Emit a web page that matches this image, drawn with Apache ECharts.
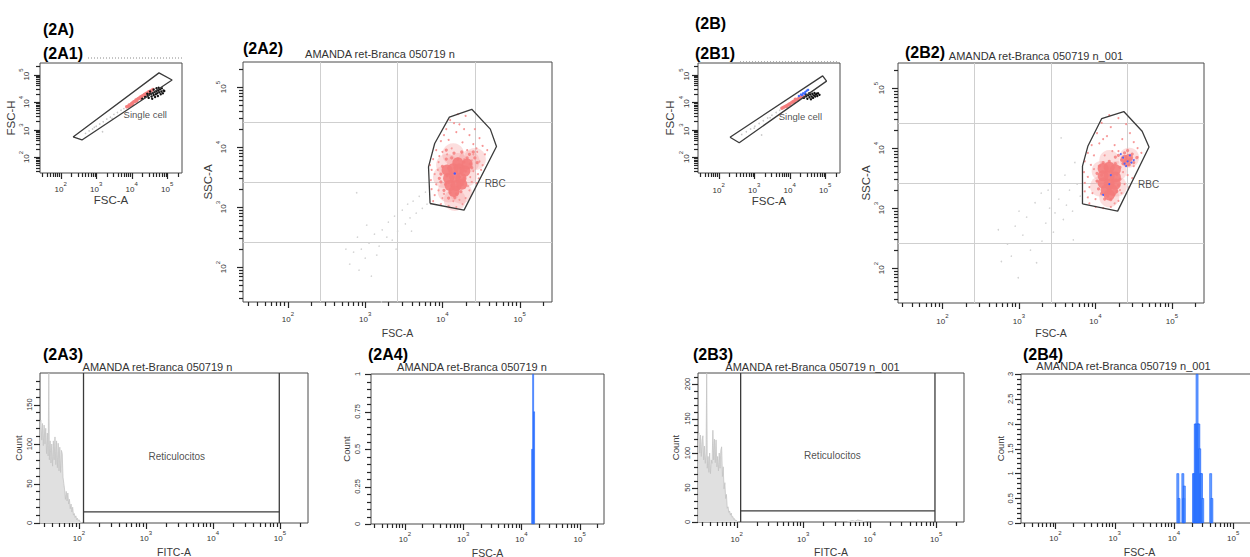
<!DOCTYPE html>
<html>
<head>
<meta charset="utf-8">
<title>Flow cytometry panels 2A / 2B</title>
<script src="https://cdn.jsdelivr.net/npm/echarts@6.0.0/dist/echarts.min.js"></script>
<style>
html,body{margin:0;padding:0;background:#ffffff;}
#chart{width:1250px;height:557px;}
</style>
</head>
<body>
<div id="chart"></div>
<script>
// ================= DATA =================
// Logarithmic axes are drawn in log10 units (decades); labels show 10^n.
const decadeExponents = [2, 3, 4, 5];
const logMinorTickValues = [30,40,50,60,70,80,90,200,300,400,500,600,700,800,900,
  2000,3000,4000,5000,6000,7000,8000,9000,20000,30000,40000,50000,60000,70000,80000,90000,200000];

// --- 2A1 : FSC-A vs FSC-H (log10) ---
const a1Gate = [[2.35,2.73],[2.60,2.62],[5.14,4.80],[4.77,5.06],[2.35,2.73]];
const a1Grey = [[2.70,2.86],[2.80,2.95],[2.90,3.02],[2.95,3.08],[3.00,3.12],[3.10,3.20],[3.18,2.92],[3.20,3.28],[3.30,3.38],[3.40,3.45],[3.45,3.40],[3.50,3.55],[3.60,3.62],[3.70,3.70],[3.78,3.76]];
const a1Red = [[3.86,3.83],[3.90,3.84],[3.93,3.89],[3.95,3.86],[3.97,3.90],[4.00,3.95],[4.02,3.92],[4.03,3.97],[4.06,4.01],[4.09,4.02],[4.12,4.07],[4.14,4.04],[4.15,4.08],[4.18,4.12],[4.21,4.14],[4.24,4.17],[4.26,4.14],[4.27,4.19],[4.30,4.22],[4.33,4.24],[4.36,4.27],[4.38,4.25],[4.39,4.29],[4.42,4.32],[4.45,4.33],[4.48,4.37],[4.50,4.35],[4.52,4.39],[4.56,4.42],[4.60,4.46]];
const a1Black = [[4.30,4.12],[4.38,4.18],[4.44,4.30],[4.45,4.22],[4.48,4.15],[4.50,4.28],[4.52,4.38],[4.55,4.30],[4.56,4.20],[4.58,4.12],[4.60,4.33],[4.62,4.25],[4.62,4.45],[4.65,4.36],[4.66,4.18],[4.68,4.28],[4.70,4.40],[4.70,4.50],[4.72,4.32],[4.74,4.22],[4.75,4.42],[4.76,4.52],[4.78,4.35],[4.80,4.46],[4.82,4.28],[4.84,4.38],[4.85,4.50],[4.88,4.32],[4.90,4.42],[4.92,4.40]];
const a1GateLabel = [3.76, 3.53];

// --- 2A2 : FSC-A vs SSC-A (log10) ---
const a2Gate = [[3.84,3.06],[3.82,3.67],[3.90,4.06],[4.09,4.50],[4.38,4.63],[4.62,4.30],[4.70,4.01],[4.28,2.95],[3.84,3.06]];
const a2Grey = [[2.75,2.30],[2.80,2.05],[2.85,2.25],[2.89,3.24],[2.90,2.50],[2.92,1.95],[2.95,2.30],[3.00,2.15],[3.02,2.70],[3.05,2.40],[3.08,1.85],[3.12,2.55],[3.15,2.20],[3.18,2.35],[3.21,1.42],[3.22,2.62],[3.28,2.50],[3.30,2.75],[3.35,2.45],[3.38,2.85],[3.40,2.30],[3.42,2.60],[3.48,2.95],[3.52,2.72],[3.55,3.05],[3.58,2.82],[3.60,2.60],[3.62,3.10],[3.66,2.90],[3.70,3.18],[3.74,2.98],[3.78,3.25],[3.80,3.05]];
const a2RedSparse = [[4.10,4.45],[4.22,4.38],[4.30,4.52],[4.05,4.30],[4.18,4.25],[4.35,4.20],[4.42,4.30],[4.48,4.15],[3.98,4.10],[4.08,4.12],[4.26,4.08],[4.40,4.05],[4.52,4.02],[3.92,3.95],[4.00,3.92],[4.32,3.95],[4.45,3.92],[4.55,3.88],[3.88,3.80],[3.95,3.75],[4.38,3.78],[4.48,3.76],[4.52,3.70],[3.86,3.62],[3.90,3.55],[4.40,3.60],[4.46,3.55],[3.85,3.45],[3.92,3.38],[4.38,3.42],[4.44,3.40],[3.86,3.30],[3.90,3.20],[4.35,3.28],[4.30,3.15],[3.88,3.10],[3.98,3.05],[4.08,3.02],[4.18,3.00],[4.26,3.05],[4.00,3.15],[4.22,3.12],[3.95,3.28],[4.02,3.22],[4.33,3.35],[4.14,3.10],[4.28,4.30],[4.15,4.40],[4.20,4.55],[4.02,4.20],[4.12,3.98],[4.44,3.98],[3.96,3.85],[4.50,3.62],[4.47,3.48],[3.84,3.70],[4.36,3.50],[4.58,3.95],[4.25,3.90],[4.06,3.88],[3.94,3.62],[4.34,3.65],[4.40,3.88],[4.28,3.80]];
const a2RedMid = [[4.05,3.80],[4.12,3.82],[4.20,3.80],[4.28,3.75],[4.32,3.82],[4.36,3.72],[4.00,3.68],[4.08,3.65],[4.16,3.66],[4.24,3.64],[4.30,3.60],[3.98,3.55],[4.06,3.52],[4.14,3.50],[4.22,3.50],[4.28,3.48],[3.98,3.42],[4.04,3.38],[4.12,3.36],[4.20,3.34],[4.26,3.38],[4.02,3.28],[4.10,3.24],[4.18,3.22],[4.24,3.26],[4.08,3.15],[4.16,3.16],[4.25,3.92],[4.35,3.88],[4.42,3.82],[4.45,3.74],[4.40,3.92],[4.15,3.90],[4.05,3.95],[4.38,3.66],[3.96,3.48]];
const a2RedHalo = [[4.06,3.70],[4.20,3.72],[4.34,3.76],[4.42,3.80],[4.02,3.50],[4.30,3.52],[4.08,3.26],[4.24,3.24],[4.16,3.12],[4.14,3.88]];
const a2RedCore = [[4.06,3.62],[4.14,3.64],[4.22,3.64],[4.29,3.60],[4.08,3.48],[4.16,3.50],[4.24,3.48],[4.10,3.36],[4.18,3.36],[4.25,3.38],[4.15,3.26],[4.20,3.74],[4.32,3.72]];
const a2Blue = [[4.16,3.56]];
const a2GateLabel = [4.54, 3.40];

// --- 2A3 : FITC-A histogram (x log10, y count) ---
const a3HistX = [1.420,1.432,1.444,1.456,1.468,1.480,1.492,1.504,1.516,1.528,1.540,1.550,1.558,1.570,1.582,1.594,1.606,1.618,1.630,1.642,1.654,1.666,1.678,1.690,1.702,1.714,1.726,1.738,1.750,1.762,1.774,1.786,1.798,1.810,1.822,1.834,1.846,1.858,1.870,1.882,1.894,1.906,1.918,1.930,1.942,1.954,1.966,1.978,1.990,2.002,2.020,2.045];
const a3HistCount = [128,130,105,126,98,124,100,120,88,114,85,190,80,104,76,100,72,104,80,109,74,104,70,101,66,96,64,92,88,58,50,42,30,40,28,38,24,30,18,24,14,20,10,12,7,9,4,6,3,4,1,0];
const a3GateX = [2.068, 4.99];
const a3GateLevel = 14;
const a3GateLabel = [3.46, 84];
const a3CountTicks = [0, 50, 100, 150];
const a3CountMinorTicks = [10,20,30,40,60,70,80,90,110,120,130,140,160,170,180];
const a3CountMax = 190;

// --- 2A4 : FSC-A histogram of gated events ---
const a4BinX = [4.185, 4.202, 4.218];
const a4BinCount = [0.5, 1, 0.75];
const a4CountTicks = [0, 0.25, 0.5, 0.75, 1];
const a4CountMinorTicks = [0.05,0.1,0.15,0.2,0.3,0.35,0.4,0.45,0.55,0.6,0.65,0.7,0.8,0.85,0.9,0.95];
const a4CountMax = 1;

// --- 2B1 ---
const b1Gate = [[2.32,2.72],[2.58,2.52],[5.04,4.76],[4.93,4.95],[2.32,2.72]];
const b1Grey = [[2.65,2.82],[2.78,2.92],[2.90,3.02],[3.00,3.05],[3.02,3.12],[3.14,3.22],[3.21,2.80],[3.26,3.32],[3.38,3.42],[3.45,3.43],[3.50,3.52],[3.62,3.62],[3.72,3.70]];
const b1Red = [[3.78,3.77],[3.82,3.80],[3.86,3.83],[3.90,3.86],[3.92,3.84],[3.94,3.88],[3.98,3.92],[4.00,3.90],[4.02,3.95],[4.06,3.98],[4.10,4.02],[4.12,4.00],[4.14,4.04],[4.16,4.10],[4.18,4.08],[4.22,4.10],[4.24,4.08],[4.26,4.13],[4.28,4.18],[4.30,4.16],[4.34,4.18],[4.38,4.21]];
const b1Blue = [[4.26,4.22],[4.32,4.27],[4.35,4.25],[4.38,4.32],[4.42,4.30],[4.44,4.36],[4.48,4.41],[4.52,4.44]];
const b1Black = [[4.40,4.15],[4.45,4.28],[4.46,4.20],[4.50,4.12],[4.52,4.24],[4.55,4.32],[4.56,4.17],[4.58,4.27],[4.60,4.10],[4.62,4.20],[4.64,4.30],[4.66,4.15],[4.68,4.24],[4.70,4.33],[4.72,4.20],[4.74,4.27],[4.76,4.30],[4.78,4.22],[4.80,4.32],[4.84,4.26]];
const b1GateLabel = [3.68, 3.47];

// --- 2B2 ---
const b2Gate = [[3.83,3.07],[3.83,3.70],[3.90,4.03],[4.08,4.49],[4.37,4.61],[4.61,4.28],[4.70,4.02],[4.29,2.95],[3.83,3.07]];
const b2Grey = [[2.73,2.64],[2.77,2.11],[2.85,2.40],[2.90,2.20],[2.95,2.70],[2.99,1.84],[3.00,2.95],[3.05,2.55],[3.10,2.85],[3.15,2.30],[3.21,3.09],[3.23,2.09],[3.29,3.25],[3.30,2.45],[3.35,2.75],[3.38,3.30],[3.40,3.00],[3.45,2.60],[3.47,2.92],[3.52,3.15],[3.55,4.17],[3.58,2.81],[3.60,3.55],[3.62,3.05],[3.66,3.30],[3.70,2.95],[3.71,2.47],[3.73,3.76],[3.76,3.40],[3.80,3.20]];
const b2RedSparse = [[4.08,4.42],[4.20,4.35],[4.30,4.50],[4.02,4.25],[4.15,4.20],[4.35,4.15],[4.45,4.25],[4.50,4.10],[3.95,4.05],[4.05,4.08],[4.25,4.05],[4.55,4.00],[3.90,3.92],[3.98,3.88],[4.30,3.95],[4.60,3.92],[3.86,3.78],[3.94,3.72],[4.50,3.70],[3.85,3.60],[3.90,3.52],[4.42,3.55],[4.48,3.50],[3.86,3.42],[3.92,3.35],[4.38,3.40],[4.44,3.35],[3.86,3.28],[3.90,3.18],[4.34,3.25],[4.30,3.12],[3.92,3.08],[4.00,3.02],[4.10,3.00],[4.20,3.02],[4.25,3.08],[4.00,3.15],[3.96,3.25],[4.02,3.45],[4.32,3.30],[4.12,3.88],[4.22,3.95],[3.98,3.65],[4.36,3.60],[4.55,3.85],[4.10,4.15],[4.40,4.40],[4.18,4.55]];
const b2RedMid = [[4.05,3.70],[4.10,3.76],[4.18,3.78],[4.26,3.74],[4.32,3.68],[4.02,3.58],[4.08,3.55],[4.28,3.56],[4.32,3.48],[4.02,3.45],[4.30,3.38],[4.04,3.32],[4.08,3.24],[4.16,3.20],[4.24,3.22],[4.28,3.28],[4.12,3.15],[4.20,3.14],[4.34,3.80],[4.40,3.86],[4.46,3.82],[4.50,3.76],[4.44,3.72],[4.38,3.92],[4.48,3.90],[4.36,3.74],[4.42,3.96],[4.30,3.88],[4.54,3.84],[4.26,3.85]];
const b2RedHalo = [[4.08,3.62],[4.28,3.62],[4.06,3.36],[4.28,3.36],[4.18,3.18],[4.18,3.80],[4.44,3.84]];
const b2RedCore = [[4.10,3.66],[4.18,3.68],[4.26,3.64],[4.10,3.54],[4.18,3.54],[4.26,3.52],[4.10,3.42],[4.18,3.40],[4.26,3.40],[4.14,3.30],[4.22,3.30],[4.18,3.22]];
const b2RedLobe = [[4.38,3.82],[4.44,3.84],[4.41,3.76]];
const b2Blue = [[4.36,3.84],[4.42,3.78],[4.45,3.88],[4.38,3.74],[4.50,3.80],[4.33,3.90],[4.40,3.70],[4.47,3.76],[4.20,3.55],[4.18,3.40],[4.10,3.22]];
const b2GateLabel = [4.55, 3.39];

// --- 2B3 ---
const b3HistX = [1.420,1.432,1.444,1.456,1.468,1.480,1.492,1.504,1.516,1.528,1.540,1.549,1.558,1.570,1.582,1.594,1.606,1.618,1.630,1.642,1.654,1.666,1.678,1.690,1.702,1.714,1.726,1.738,1.750,1.762,1.774,1.786,1.798,1.810,1.822,1.834,1.846,1.858,1.870,1.882,1.894,1.906,1.918,1.930,1.942,1.954,1.966,1.978,1.990,2.005,2.030];
const b3HistCount = [125,129,100,126,95,118,125,90,110,85,100,216,78,95,72,100,70,90,85,133,90,120,86,119,80,95,74,100,78,104,109,66,80,48,57,34,40,20,22,14,16,10,13,7,8,4,5,2,3,1,0];
const b3BumpX = [3.66,3.70,3.74,3.78,3.82,3.86,3.90,3.94];
const b3BumpCount = [0,1,2,1,3,2,1,0];
const b3GateX = [2.06, 4.982];
const b3GateLevel = 16;
const b3GateLabel = [3.44, 97];
const b3CountTicks = [0, 50, 100, 150, 200];
const b3CountMinorTicks = [10,20,30,40,60,70,80,90,110,120,130,140,160,170,180,190,210];
const b3CountMax = 216;

// --- 2B4 ---
const b4BinX = [4.065,4.085,4.150,4.165,4.175,4.330,4.345,4.360,4.375,4.390,4.405,4.420,4.435,4.450,4.465,4.485,4.620,4.640];
const b4BinCount = [1,0.5,1,0.5,0.75,1,1,2,2,3,2,2,1.5,1,1,0.5,1,0.5];
const b4CountTicks = [0, 0.5, 1, 1.5, 2, 2.5, 3];
const b4CountMinorTicks = [0.1,0.2,0.3,0.4,0.6,0.7,0.8,0.9,1.1,1.2,1.3,1.4,1.6,1.7,1.8,1.9,2.1,2.2,2.3,2.4,2.6,2.7,2.8,2.9];
const b4CountMax = 3;

// quadrant grid lines of the dot plots (quarters of the plot)
const quarterLines = [1, 2, 3];

// ================= CHART =================
const FONT = '"Liberation Sans", Arial, Helvetica, sans-serif';
const LOG_MAX = Math.log10(262144);
const LOG_MIN = LOG_MAX - 4;
const AX = '#262626';
const logMinor = logMinorTickValues.map(v => Math.log10(v));

function logLabel(v) { return '{b|10}{s|' + Math.round(v) + '}'; }
const logRich = {
  b: {fontSize: 8, lineHeight: 12, verticalAlign: 'bottom', color: '#333', fontFamily: FONT},
  s: {fontSize: 6, lineHeight: 12, verticalAlign: 'top', color: '#333', fontFamily: FONT}
};

const gridRects = [
  {left: 40,   top: 63,  width: 142, height: 110}, // 2A1
  {left: 243,  top: 62,  width: 309, height: 240}, // 2A2
  {left: 40,   top: 373, width: 268, height: 150}, // 2A3
  {left: 371,  top: 374, width: 233, height: 150}, // 2A4
  {left: 698,  top: 63,  width: 142, height: 110}, // 2B1
  {left: 898,  top: 63,  width: 306, height: 240}, // 2B2
  {left: 698,  top: 373, width: 266, height: 149}, // 2B3
  {left: 1021, top: 374, width: 237, height: 149}  // 2B4
];
const grids = gridRects.map(g => Object.assign({}, g, {show: true, borderColor: '#4a4a4a', borderWidth: 1,
  backgroundColor: 'transparent', containLabel: false, outerBoundsMode: 'none'}));

function logCfg(name, nameGap, nameSize, margin) {
  return {log: true, min: LOG_MIN, max: LOG_MAX, major: decadeExponents, minor: logMinor, name, nameGap, nameSize, margin};
}
function linCfg(max, major, minor, name, nameGap, nameSize, margin) {
  return {log: false, min: 0, max, major, minor, name, nameGap, nameSize, margin};
}
const panelAxes = [
  [logCfg('FSC-A', 21, 11.5, 8),   logCfg('FSC-H', 22, 11.5, 10)],
  [logCfg('FSC-A', 25, 10.5, 9),   logCfg('SSC-A', 20, 11.5, 16)],
  [logCfg('FITC-A', 23, 10.5, 7),  linCfg(a3CountMax, a3CountTicks, a3CountMinorTicks, 'Count', 17, 9.5, 7)],
  [logCfg('FSC-A', 23, 10.5, 7),   linCfg(a4CountMax, a4CountTicks, a4CountMinorTicks, 'Count', 20, 9.5, 10)],
  [logCfg('FSC-A', 22, 11.5, 9),   logCfg('FSC-H', 22, 11.5, 8)],
  [logCfg('FSC-A', 24, 10.5, 10),  logCfg('SSC-A', 22, 11.5, 13)],
  [logCfg('FITC-A', 24, 10.5, 9),  linCfg(b3CountMax, b3CountTicks, b3CountMinorTicks, 'Count', 18, 9.5, 7)],
  [logCfg('FSC-A', 23, 10.5, 7),   linCfg(b4CountMax, b4CountTicks, b4CountMinorTicks, 'Count', 16, 9.5, 7)]
];

function makeAxis(g, dim, cfg) {
  const label = {show: true, customValues: cfg.major, rotate: dim === 'y' ? 90 : 0, margin: cfg.margin,
    fontSize: 7.5, color: '#333', fontFamily: FONT};
  if (cfg.log) { label.formatter = logLabel; label.rich = logRich; }
  return {type: 'value', gridIndex: g, min: cfg.min, max: cfg.max,
    position: dim === 'x' ? 'bottom' : 'left',
    axisLine: {show: false}, splitLine: {show: false}, axisTick: {show: false},
    axisLabel: label,
    name: cfg.name, nameLocation: 'middle', nameGap: cfg.nameGap,
    nameTextStyle: {fontSize: cfg.nameSize, color: '#3a3a3a', fontFamily: FONT}};
}
const xAxes = panelAxes.map((p, g) => makeAxis(g, 'x', p[0]));
const yAxes = panelAxes.map((p, g) => makeAxis(g, 'y', p[1]));

// hidden axes carrying the quadrant grid lines of 2A2 (grid 1) and 2B2 (grid 5)
[1, 5].forEach(g => {
  const q = {type: 'value', gridIndex: g, min: 0, max: 4, axisLine: {show: false}, axisLabel: {show: false},
    axisTick: {show: false, customValues: quarterLines},
    splitLine: {show: true, lineStyle: {color: '#cfcfcf', width: 1}}};
  xAxes.push(Object.assign({position: 'bottom'}, q));
  yAxes.push(Object.assign({position: 'left'}, q));
});

const series = [];
function dots(g, data, color, size, opacity, z) {
  series.push({type: 'scatter', xAxisIndex: g, yAxisIndex: g, data: data, symbolSize: size,
    itemStyle: {color: color, opacity: opacity}, silent: true, z: z || 2});
}
function gateLine(g, data) {
  series.push({type: 'line', xAxisIndex: g, yAxisIndex: g, data: data, symbol: 'none',
    lineStyle: {color: '#3b3b3b', width: 1.3}, silent: true, z: 5});
}
function note(g, pos, text, size, position) {
  series.push({type: 'scatter', xAxisIndex: g, yAxisIndex: g, data: [{name: text, value: pos}],
    symbolSize: 1, itemStyle: {color: 'rgba(0,0,0,0)'},
    label: {show: true, formatter: '{b}', position: position, distance: 0, fontSize: size, color: '#222', fontFamily: FONT},
    silent: true, z: 6});
}
function histo(g, xs, ys) {
  series.push({type: 'line', xAxisIndex: g, yAxisIndex: g, data: xs.map((x, i) => [x, ys[i]]),
    symbol: 'none', lineStyle: {color: '#c4c4c4', width: 0.8}, areaStyle: {color: '#e0e0e0', opacity: 1},
    silent: true, z: 2});
}
function bracket(g, gx, level, top) {
  gateLine(g, [[gx[0], 0], [gx[0], top]]);
  gateLine(g, [[gx[1], 0], [gx[1], top]]);
  gateLine(g, [[gx[0], level], [gx[1], level]]);
}
function blueBars(g, xs, ys, w) {
  series.push({type: 'bar', xAxisIndex: g, yAxisIndex: g, data: xs.map((x, i) => [x, ys[i]]),
    barWidth: w, itemStyle: {color: 'rgba(74,142,255,0.82)', borderColor: '#1760ff', borderWidth: 0.6},
    silent: true, z: 3});
}

// 2A1
dots(0, a1Grey, '#c8c8c8', 1.6, 1);
dots(0, a1Red, '#f47c7c', 3.4, 0.95, 3);
dots(0, a1Black, '#111111', 2.4, 1, 4);
gateLine(0, a1Gate);
note(0, a1GateLabel, 'Single cell', 9.5, 'right');
// 2A2
dots(1, a2Grey, '#d2d2d2', 1.6, 1);
dots(1, a2RedSparse, '#f58a8a', 2, 0.9, 3);
dots(1, a2RedHalo, '#f6a0a0', 22, 0.35, 3);
dots(1, a2RedMid, '#f47f7f', 3.2, 0.85, 3);
dots(1, a2RedCore, '#f47b7b', 11, 0.9, 3);
dots(1, a2Blue, '#4258ff', 2.5, 1, 4);
gateLine(1, a2Gate);
note(1, a2GateLabel, 'RBC', 10, 'right');
// 2A3
histo(2, a3HistX, a3HistCount);
bracket(2, a3GateX, a3GateLevel, a3CountMax);
note(2, a3GateLabel, 'Reticulocitos', 10, 'inside');
// 2A4
blueBars(3, a4BinX, a4BinCount, 1.6);
// 2B1
dots(4, b1Grey, '#c8c8c8', 1.6, 1);
dots(4, b1Red, '#f47c7c', 3.4, 0.95, 3);
dots(4, b1Black, '#111111', 2.4, 1, 4);
dots(4, b1Blue, '#3f6bff', 2.4, 1, 4);
gateLine(4, b1Gate);
note(4, b1GateLabel, 'Single cell', 9.5, 'right');
// 2B2
dots(5, b2Grey, '#d2d2d2', 1.6, 1);
dots(5, b2RedSparse, '#f58a8a', 2, 0.9, 3);
dots(5, b2RedHalo, '#f6a0a0', 20, 0.35, 3);
dots(5, b2RedMid, '#f47f7f', 3.2, 0.85, 3);
dots(5, b2RedCore, '#f47b7b', 11, 0.9, 3);
dots(5, b2RedLobe, '#f47b7b', 8, 0.85, 3);
dots(5, b2Blue, '#4a63ff', 2, 1, 4);
gateLine(5, b2Gate);
note(5, b2GateLabel, 'RBC', 10, 'right');
// 2B3
histo(6, b3HistX, b3HistCount);
histo(6, b3BumpX, b3BumpCount);
bracket(6, b3GateX, b3GateLevel, b3CountMax);
note(6, b3GateLabel, 'Reticulocitos', 10, 'inside');
// 2B4
blueBars(7, b4BinX, b4BinCount, 2.6);

// panel tags and sample titles
function tag(text, x, y) {
  return {type: 'text', x: x, y: y, silent: true,
    style: {text: text, fill: '#000', font: 'bold 16px ' + FONT, align: 'left', verticalAlign: 'middle'}};
}
function title(text, x, y) {
  return {type: 'text', x: x, y: y, silent: true,
    style: {text: text, fill: '#333', font: '11px ' + FONT, align: 'center', verticalAlign: 'middle'}};
}
const graphics = [
  tag('(2A)', 43, 29), tag('(2A1)', 43, 53), tag('(2A2)', 243, 48), tag('(2A3)', 43, 354), tag('(2A4)', 368, 354),
  tag('(2B)', 695, 23), tag('(2B1)', 695, 53), tag('(2B2)', 905, 52), tag('(2B3)', 693, 354), tag('(2B4)', 1023, 354),
  title('AMANDA ret-Branca 050719 n', 380, 54),
  title('AMANDA ret-Branca 050719 n_001', 1036, 56),
  title('AMANDA ret-Branca 050719 n', 157.5, 366.5),
  title('AMANDA ret-Branca 050719 n', 472, 366.5),
  title('AMANDA ret-Branca 050719 n_001', 812.5, 366.5),
  title('AMANDA ret-Branca 050719 n_001', 1123.5, 366),
  {type: 'line', silent: true, shape: {x1: 88, y1: 58, x2: 182, y2: 58}, style: {stroke: '#8a8a8a', lineWidth: 1, lineDash: [1, 2]}},
  {type: 'line', silent: true, shape: {x1: 740, y1: 61.5, x2: 838, y2: 61.5}, style: {stroke: '#b0b0b0', lineWidth: 1, lineDash: [1, 2]}}
];

// axis ticks outside each plot box: tick values mapped with the same linear
// value-axis scale the grid uses (grid rect + axis min/max)
function axisPos(g, dim, v) {
  const r = gridRects[g], c = panelAxes[g][dim === 'x' ? 0 : 1];
  const t = (v - c.min) / (c.max - c.min);
  return dim === 'x' ? r.left + t * r.width : r.top + r.height - t * r.height;
}
function addTicks(g, dim, values, len) {
  const r = gridRects[g];
  values.forEach(v => {
    const c = Math.round(axisPos(g, dim, v)) + 0.5;
    const shape = dim === 'x'
      ? {x1: c, y1: r.top + r.height, x2: c, y2: r.top + r.height + len}
      : {x1: r.left, y1: c, x2: r.left - len, y2: c};
    graphics.push({type: 'line', silent: true, shape: shape, style: {stroke: AX, lineWidth: 1.2}});
  });
}
panelAxes.forEach((p, g) => {
  addTicks(g, 'x', p[0].major, 6);
  addTicks(g, 'x', p[0].minor, 4);
  addTicks(g, 'y', p[1].major, 6);
  addTicks(g, 'y', p[1].minor, 4);
});

const chart = echarts.init(document.getElementById('chart'), null, {renderer: 'svg', width: 1250, height: 557});
chart.setOption({
  backgroundColor: '#ffffff',
  animation: false,
  textStyle: {fontFamily: FONT},
  grid: grids,
  xAxis: xAxes,
  yAxis: yAxes,
  series: series,
  graphic: graphics
});
</script>
</body>
</html>
